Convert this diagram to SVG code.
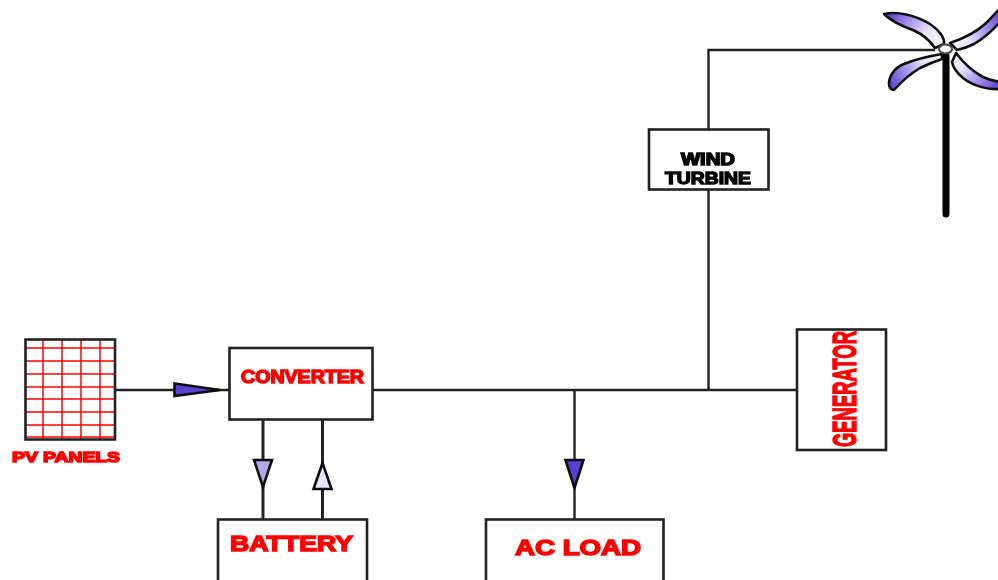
<svg xmlns="http://www.w3.org/2000/svg" width="998" height="580" viewBox="0 0 998 580">
<style>
.box{fill:#fff;stroke:#222;stroke-width:2.6}
.wire{fill:none;stroke:#222;stroke-width:2.4}
.thick{fill:none;stroke:#222;stroke-width:3}
.head{stroke:#111;stroke-width:2.6;stroke-linejoin:miter}
.grid{stroke:#f00;stroke-width:1.5}
.blade{fill:url(#bladeFill);stroke:#111;stroke-width:2.6;stroke-linejoin:round}
.red{fill:#f00;stroke:#f00;stroke-width:1.5;font-family:"Liberation Sans",Arial,sans-serif;font-weight:700}
.blk{fill:#000;stroke:#000;stroke-width:1.4;font-family:"Liberation Sans",Arial,sans-serif;font-weight:700}
</style>
<defs>
<radialGradient id="bladeFill" gradientUnits="userSpaceOnUse" cx="945" cy="49" r="64">
<stop offset="0" stop-color="#ffffff"/><stop offset=".4" stop-color="#e8e2fb"/><stop offset="1" stop-color="#6248d6"/>
</radialGradient>
<filter id="soft" x="-5%" y="-5%" width="110%" height="110%"><feGaussianBlur stdDeviation=".5"/></filter>
</defs>
<rect width="998" height="580" fill="#fff"/>
<g filter="url(#soft)">
<g id="connectors">
<path class="wire" d="M115 390H229"/>
<path class="wire" d="M372 390H797"/>
<path class="wire" d="M708.500 390V189M708.500 129.500V50H935"/>
<path class="thick" d="M263 419.500V519"/>
<path class="thick" d="M322.500 419.500V519"/>
<path class="wire" d="M574.500 390V519.500"/>
<polygon class="head" fill="#5a3fd0" points="174.500,383.500 174.500,396 220,390"/>
<polygon class="head" fill="#b5a8e8" points="254,460 272,460 263,487"/>
<polygon class="head" fill="#e8e4f8" points="313.500,489 331.500,489 322.500,463"/>
<polygon class="head" fill="#5a3fd0" points="565.500,460 583.500,460 574.500,488"/>
</g>
<g id="pv-panels">
<rect x="25.500" y="339.500" width="89.500" height="100" fill="#fff"/>
<path class="grid" d="M43 340V439M62 340V439M81 340V439M100 340V439M26 348H115M26 361H115M26 374H115M26 387H115M26 399H115M26 412H115M26 425H115M26 437H115"/>
<rect x="25.500" y="339.500" width="89.500" height="100" fill="none" stroke="#222" stroke-width="2.6"/>
<text class="red" x="12" y="462" font-size="15" textLength="108" lengthAdjust="spacingAndGlyphs">PV PANELS</text>
</g>
<g id="converter">
<rect class="box" x="229.500" y="348" width="143" height="71.500"/>
<text class="red" x="241" y="383" font-size="19" textLength="123" lengthAdjust="spacingAndGlyphs">CONVERTER</text>
</g>
<g id="battery">
<rect class="box" x="218" y="519.500" width="149" height="70"/>
<text class="red" x="230" y="551" font-size="22" textLength="123" lengthAdjust="spacingAndGlyphs">BATTERY</text>
</g>
<g id="ac-load">
<rect class="box" x="486" y="519.500" width="177.500" height="70"/>
<text class="red" x="515" y="555" font-size="22" textLength="126" lengthAdjust="spacingAndGlyphs">AC LOAD</text>
</g>
<g id="generator">
<rect class="box" x="797" y="329.500" width="89" height="120.500"/>
<text class="red" transform="translate(856 447) rotate(-90)" font-size="34" textLength="116" lengthAdjust="spacingAndGlyphs">GENERATOR</text>
</g>
<g id="wind-turbine-box">
<rect class="box" x="649" y="129.500" width="119.500" height="60"/>
<text class="blk" x="681" y="165" font-size="16" textLength="54" lengthAdjust="spacingAndGlyphs">WIND</text>
<text class="blk" x="665" y="184" font-size="17" textLength="86" lengthAdjust="spacingAndGlyphs">TURBINE</text>
</g>
<g id="wind-turbine">
<path class="blade" d="M884 14C897 11 915 15 930 24C939 30 945 38 944 44L935 48C930 41 924 35 915 31C903 26 892 22 884 14Z"/>
<path class="blade" d="M950 43C962 39 975 33 985 24C990 19 995 14 1000 8V22C992 31 984 38 974 44C968 47 962 49 957 50Z"/>
<path class="blade" d="M956 53C962 61 972 71 983 77C989 80 995 81 1000 82V89C988 90 973 86 963 78C957 73 953 67 952 62Z"/>
<path class="blade" d="M942 54C930 56 916 59 904 64C894 68 889 76 889 84C889 87 891 90 894 90C902 81 910 74 920 68C928 64 936 61 942 59Z"/>
<path d="M946 56V214" stroke="#000" stroke-width="7" stroke-linecap="round" fill="none"/>
<ellipse cx="945.500" cy="49" rx="6.500" ry="4.500" fill="#fff" stroke="#444" stroke-width="2"/>
</g>
</g>
</svg>
